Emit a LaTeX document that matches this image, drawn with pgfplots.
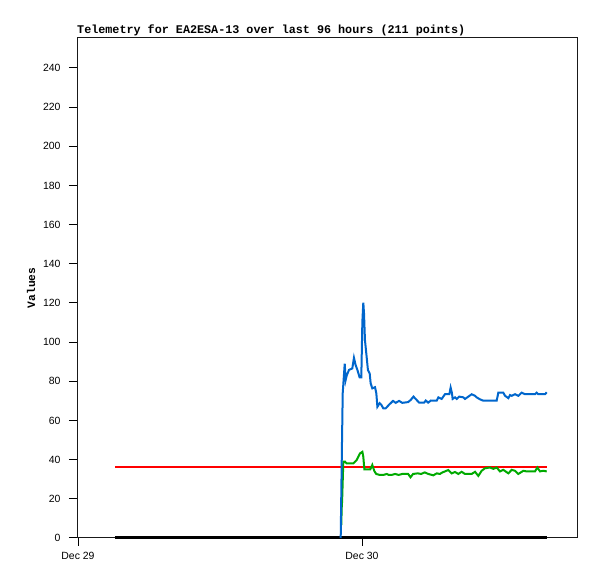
\documentclass[border=0pt]{standalone}
\usepackage{fontspec}
\setmainfont{Liberation Sans}
\newfontfamily\monob{Liberation Mono}
\usepackage{pgfplots}
\pgfplotsset{compat=1.18}
\definecolor{cblue}{HTML}{0066CC}
\definecolor{cgreen}{HTML}{00AA00}
\definecolor{cred}{HTML}{FF0000}
\begin{document}
\begin{tikzpicture}[x=1bp,y=1bp]
\useasboundingbox (0,0) rectangle (597,579);
\begin{axis}[
  at={(77bp,41bp)}, anchor=south west,
  scale only axis, width=500bp, height=500bp,
  xmin=-0.085, xmax=42.17, ymin=0, ymax=255.3,
  ytick={0,20,...,240},
  xtick={0,24}, xticklabels={Dec 29,Dec 30},
  tick align=outside, xtick pos=bottom, ytick pos=left,
  major tick length=8bp,
  axis line style={black!90, line width=1bp},
  every tick/.style={black, line width=1bp},
  /pgf/number format/assume math mode=true,
  tick label style={font=\fontsize{10.5}{12}\selectfont},
  yticklabel style={anchor=east, xshift=-5bp},
  xticklabel style={anchor=north, yshift=-3bp},
  every axis title shift=0pt,
  title={Telemetry for EA2ESA-13 over last 96 hours (211 points)},
  title style={at={(rel axis cs:0,1)}, anchor=base west, yshift=4.5bp, inner sep=0pt,
    font=\monob\bfseries\fontsize{11.8}{13}\selectfont},
  ylabel={Values},
  ylabel style={at={(axis description cs:-0.084,0.5)}, anchor=base, inner sep=0pt,
    font=\monob\bfseries\fontsize{11.3}{13}\selectfont},
  clip=false,
]
% black series at zero
\addplot[black, line width=3bp] coordinates {(3.13,0) (39.61,0)};
% red reference line
\addplot[cred, line width=2bp] coordinates {(3.13,36) (39.61,36)};
% green series
\addplot[cgreen, line width=2bp] coordinates {
(22.25,6.6) (22.28,15) (22.32,19) (22.42,39) (22.56,39) (22.7,38.1) (22.99,38.1)
(23.27,38.1) (23.55,39.8) (23.83,43.2) (24.03,44) (24.11,41.5) (24.2,35)
(24.4,35) (24.7,35) (24.87,37.3) (25.04,34.2) (25.2,32.7) (25.5,32.2)
(25.8,32.2) (26.1,32.7) (26.25,32.2) (26.5,32.2) (26.8,32.7) (27.1,32.2)
(27.4,32.7) (27.9,32.7) (28.1,31) (28.32,32.7) (28.7,33) (29.0,32.7)
(29.3,33.5) (29.6,32.7) (30.03,32) (30.31,33) (30.59,32.7) (30.73,33.3)
(31.29,34.7) (31.58,33) (31.86,33.7) (32.14,32.7) (32.42,33.8) (32.7,32.7)
(33.27,32.7) (33.55,33.8) (33.83,31.7) (34.11,34.3) (34.39,35.6) (34.82,36)
(35.1,35.3) (35.38,36) (35.66,34) (35.94,34.8) (36.37,33) (36.65,34.8)
(36.93,34.3) (37.21,32.7) (37.63,34.3) (37.92,34) (38.62,34) (38.82,36)
(39.04,34) (39.33,34.3) (39.61,34)
};
% blue series
\addplot[cblue, line width=2bp] coordinates {
(22.2,0) (22.3,45) (22.37,74) (22.54,89) (22.62,80.7) (22.71,83) (22.9,85.8)
(23.18,86.6) (23.32,92) (23.46,88.3) (23.6,86) (23.8,82) (23.94,82) (23.97,91)
(24.03,110.5) (24.11,120.2) (24.17,114.7) (24.25,101) (24.39,92.6) (24.5,85.8)
(24.65,84) (24.73,79) (24.87,76.4) (25.1,77) (25.21,73.9) (25.3,67) (25.49,68.8)
(25.63,68) (25.8,66.2) (26.0,66.2) (26.28,68) (26.62,70) (26.85,69) (27.13,70)
(27.41,69) (27.9,69.4) (28.12,70.5) (28.35,72.2) (28.83,69.1) (29.25,69.1)
(29.39,70.2) (29.59,69.1) (29.82,70.2) (30.31,70.1) (30.45,71.8) (30.73,71)
(31.01,73.4) (31.38,73.4) (31.49,76.8) (31.6,74) (31.66,71) (31.86,71.8)
(32.0,71) (32.22,72.2) (32.56,71.8) (32.7,71) (32.99,72.2) (33.27,73.4)
(33.55,72.6) (33.69,71.8) (33.97,70.8) (34.25,70.1) (35.38,70.1) (35.52,74.2)
(35.94,74.2) (36.09,72.6) (36.37,71.4) (36.51,73) (36.65,72.6) (36.93,73.4)
(37.21,72.6) (37.49,74.2) (37.78,73.4) (38.62,73.4) (38.76,74.2) (38.9,73.4)
(39.47,73.4) (39.61,74.4)
};
\end{axis}
\end{tikzpicture}
\end{document}
